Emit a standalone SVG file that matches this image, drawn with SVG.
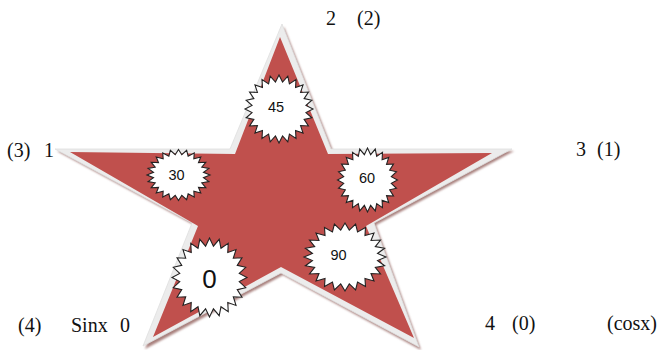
<svg xmlns="http://www.w3.org/2000/svg" xmlns:xlink="http://www.w3.org/1999/xlink" width="664" height="350" viewBox="0 0 664 350">
<style>
.lbl{font-family:"Liberation Serif","Times New Roman",serif;font-size:20px;fill:#111}
.num{font-family:"Liberation Sans",Arial,sans-serif;font-size:14.5px;fill:#111;text-anchor:middle}
.big{font-size:26px}
.burst{fill:#fff;stroke:#222;stroke-width:1.1;stroke-linejoin:miter}
</style>
<defs>
<polygon id="b24" vector-effect="non-scaling-stroke" points="1,0 0.7932,0.1044 0.9659,0.2588 0.7391,0.3061 0.8660,0.5 0.6347,0.4870 0.7071,0.7071 0.4870,0.6347 0.5,0.8660 0.3061,0.7391 0.2588,0.9659 0.1044,0.7932 0,1 -0.1044,0.7932 -0.2588,0.9659 -0.3061,0.7391 -0.5,0.8660 -0.4870,0.6347 -0.7071,0.7071 -0.6347,0.4870 -0.8660,0.5 -0.7391,0.3061 -0.9659,0.2588 -0.7932,0.1044 -1,0 -0.7932,-0.1044 -0.9659,-0.2588 -0.7391,-0.3061 -0.8660,-0.5 -0.6347,-0.4870 -0.7071,-0.7071 -0.4870,-0.6347 -0.5,-0.8660 -0.3061,-0.7391 -0.2588,-0.9659 -0.1044,-0.7932 0,-1 0.1044,-0.7932 0.2588,-0.9659 0.3061,-0.7391 0.5,-0.8660 0.4870,-0.6347 0.7071,-0.7071 0.6347,-0.4870 0.8660,-0.5 0.7391,-0.3061 0.9659,-0.2588 0.7932,-0.1044"/>
<filter id="soft" x="-5%" y="-5%" width="110%" height="110%"><feGaussianBlur stdDeviation="0.8"/></filter>
</defs>
<rect width="664" height="350" fill="#fff"/>
<g id="star">
<polygon points="284,27 333,151 514,151 376,225 421,350 283,275 145,349 194,225 57,151 232,151" fill="#a9817e" filter="url(#soft)"/>
<polygon points="282,24 331,149 512,149 374,223 419,347 281,273 143,346 192,223 55,149 230,149" fill="#ececec" stroke="#dedede" stroke-width="0.8"/>
<polygon points="280,37 328,154 492,153 366,226 414,338 281,267 153,337 198,226 70,152 235,154" fill="#c0504d"/>
</g>
<g id="burst45">
<use xlink:href="#b24" class="burst" transform="translate(279,109) scale(34,34)"/>
<text class="num" x="276" y="112">45</text>
</g>
<g id="burst30">
<use xlink:href="#b24" class="burst" transform="translate(178.5,175) scale(31.5,25.5)"/>
<text class="num" x="176.5" y="180">30</text>
</g>
<g id="burst60">
<use xlink:href="#b24" class="burst" transform="translate(367.5,180) scale(30,32)"/>
<text class="num" x="367" y="183">60</text>
</g>
<g id="burst90">
<use xlink:href="#b24" class="burst" transform="translate(345,257) scale(41,34)"/>
<text class="num" x="338.5" y="260">90</text>
</g>
<g id="burst0">
<use xlink:href="#b24" class="burst" transform="translate(209.5,277.5) scale(37.5,39.5)"/>
<text class="num big" x="209.5" y="288">0</text>
</g>
<g id="labels">
<text class="lbl" x="326" y="25">2</text>
<text class="lbl" x="357" y="25">(2)</text>
<text class="lbl" x="7" y="157">(3)</text>
<text class="lbl" x="44" y="157">1</text>
<text class="lbl" x="576" y="156">3</text>
<text class="lbl" x="597" y="156">(1)</text>
<text class="lbl" x="18" y="332">(4)</text>
<text class="lbl" x="71" y="332">Sinx</text>
<text class="lbl" x="120" y="332">0</text>
<text class="lbl" x="485" y="330">4</text>
<text class="lbl" x="512" y="330">(0)</text>
<text class="lbl" x="607" y="330">(cosx)</text>
</g>
</svg>
